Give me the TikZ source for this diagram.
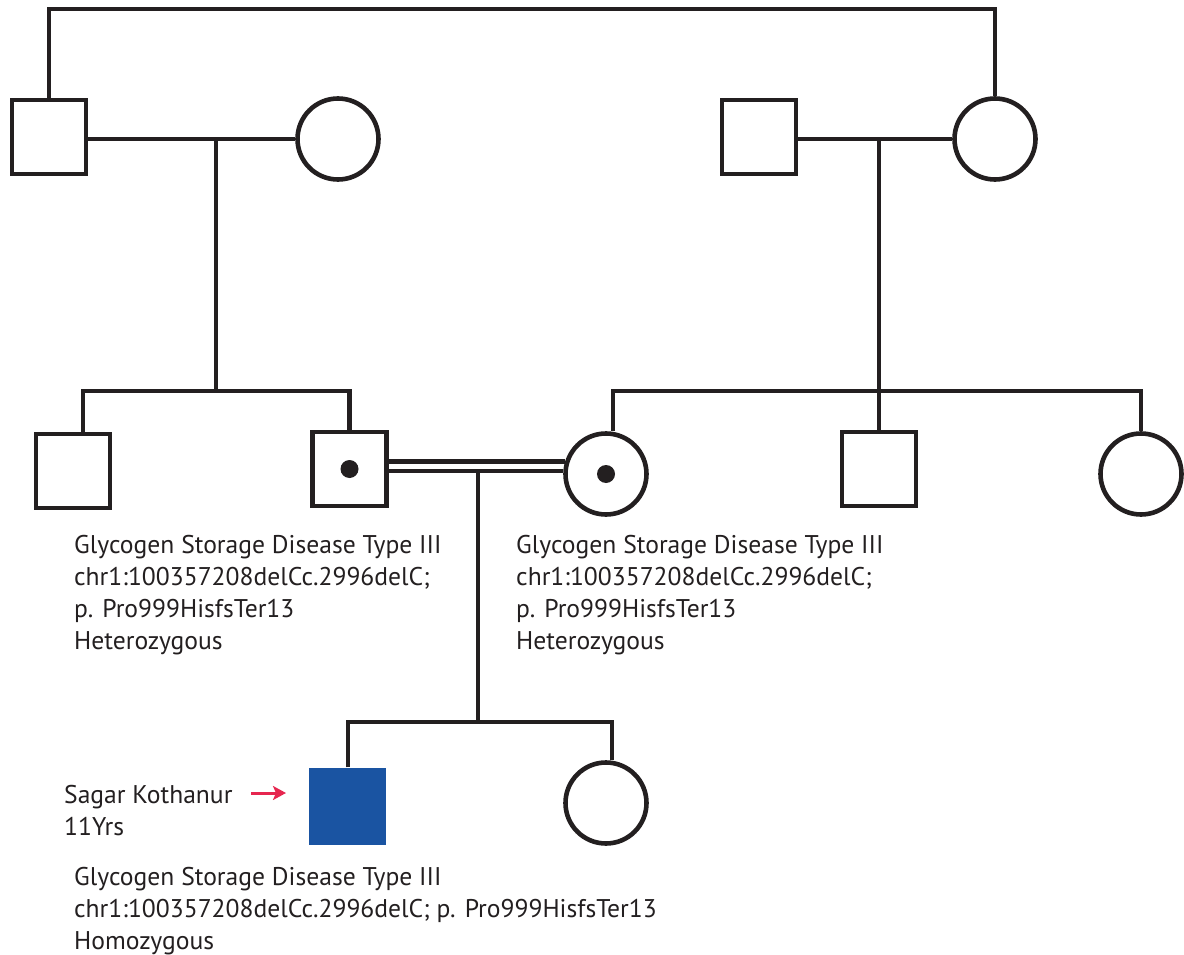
\documentclass[tikz,border=0pt]{standalone}
\usepackage{fontspec}
\setmainfont{PT Sans}
\usetikzlibrary{arrows.meta}
\definecolor{ink}{HTML}{231F20}
\definecolor{pblue}{HTML}{1A54A2}
\definecolor{parrow}{HTML}{E6264F}
\tikzset{
  ln/.style={draw=ink, line width=4.6pt},
  male/.style={rectangle, draw=ink, line width=4.6pt, minimum size=74pt, inner sep=0pt},
  female/.style={circle, draw=ink, line width=4.6pt, minimum size=81pt, inner sep=0pt},
  affected/.style={rectangle, fill=pblue, minimum size=77pt, inner sep=0pt},
  cdot/.style={circle, fill=ink, minimum size=18pt, inner sep=0pt},
  txt/.style={anchor=base west, inner sep=0pt, text=ink, font=\fontsize{25.6}{30}\selectfont},
  parr/.style={draw=parrow, line width=3pt, -{Stealth[length=13pt, width=14pt, inset=3pt]}}
}
\begin{document}
\begin{tikzpicture}[x=1pt, y=-1pt]
\useasboundingbox (0,0) rectangle (1184,955);
% generation I
\node[male] (gf1) at (49,137) {};
\node[female] (gm1) at (338,139) {};
\node[male] (gf2) at (759,137) {};
\node[female] (gm2) at (995,139) {};
\coordinate (tl) at (49,9);
\coordinate (tr) at (995,9);
\draw[ln, line join=miter] (gf1.north) -- (tl) -- (tr) -- (gm2.north);
\draw[ln] (gf1.east |- gm1.center) -- (gm1.west);
\draw[ln] (gf2.east |- gm2.center) -- (gm2.west);
% generation II
\node[male] (u1) at (73,471) {};
\node[male] (fa) at (349.5,469) {};
\node[cdot] (fad) at (fa.center) {};
\node[female] (mo) at (606,474) {};
\node[cdot] (mod) at (mo.center) {};
\node[male] (u2) at (879,469) {};
\node[female] (a1) at (1141,474) {};
\coordinate (m1) at (216,139);
\coordinate (s1) at (216,391);
\coordinate (s1l) at (83,391);
\coordinate (s1r) at (349.5,391);
\draw[ln] (m1) -- (s1);
\draw[ln, line join=miter] (u1.north -| s1l) -- (s1l) -- (s1r) -- (fa.north);
\coordinate (m2) at (879,139);
\coordinate (s2l) at (613,391);
\coordinate (s2r) at (1141,391);
\draw[ln] (m2) -- (u2.north);
\draw[ln, line join=miter] (mo.north -| s2l) -- (s2l) -- (s2r) -- (a1.north);
% consanguineous marriage
\draw[ln] (fa.east |- mo.163) -- (mo.163);
\draw[ln] (fa.east |- mo.176) -- (mo.176);
\coordinate (m3) at (478,472);
\coordinate (s3) at (478,722);
\coordinate (s3l) at (348,722);
\coordinate (s3r) at (612,722);
% generation III
\node[affected] (pb) at (347.5,806) {};
\node[female] (si) at (606,803) {};
\draw[ln] (m3) -- (s3);
\draw[ln, line join=miter] (pb.north -| s3l) -- (s3l) -- (s3r) -- (si.north -| s3r);
% texts
\node[txt] (f1) at (74,553) {Glycogen Storage Disease Type III};
\node[txt] (f2) at (74,585) {chr1:100357208delCc.2996delC;};
\node[txt] (f3) at (74,617) {p. Pro999HisfsTer13};
\node[txt] (f4) at (74,649) {Heterozygous};
\node[txt] (g1) at (516,553) {Glycogen Storage Disease Type III};
\node[txt] (g2) at (516,585) {chr1:100357208delCc.2996delC;};
\node[txt] (g3) at (516,617) {p. Pro999HisfsTer13};
\node[txt] (g4) at (516,649) {Heterozygous};
\node[txt] (p1) at (64,803) {Sagar Kothanur};
\node[txt] (p2) at (64,835) {11Yrs};
\node[txt] (h1) at (74,885) {Glycogen Storage Disease Type III};
\node[txt] (h2) at (74,917) {chr1:100357208delCc.2996delC; p. Pro999HisfsTer13};
\node[txt] (h3) at (74,949) {Homozygous};
\coordinate (aS) at (251,793);
\coordinate (aE) at (286,793);
\draw[parr] (aS) -- (aE);
\end{tikzpicture}
\end{document}
